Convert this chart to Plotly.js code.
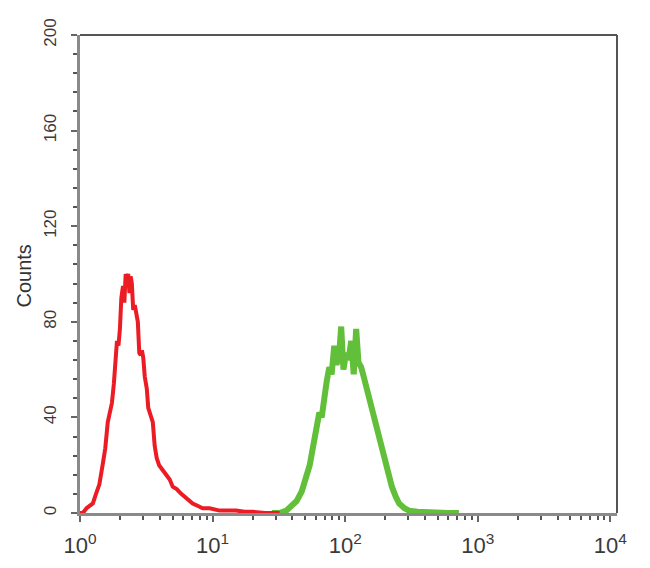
<!DOCTYPE html>
<html>
<head>
<meta charset="utf-8">
<script src="https://cdn.plot.ly/plotly-3.0.1.min.js"></script>
<style>html,body{margin:0;padding:0;background:#fff;}#chart{width:650px;height:568px;}</style>
</head>
<body>
<div id="chart"></div>
<script>
// Red (control) histogram
const redX = [1.0,1.05,1.12,1.2,1.25,1.32,1.4,1.49,1.55,1.62,
  1.68,1.74,1.8,1.86,1.9,1.95,2.0,2.05,2.11,2.16,
  2.21,2.26,2.31,2.36,2.41,2.46,2.52,2.59,2.66,2.73,
  2.8,2.87,2.93,3.0,3.08,3.19,3.27,3.36,3.45,3.54,
  3.66,3.79,3.95,4.21,4.45,4.75,5.0,5.36,5.8,6.38,
  6.7,7.08,7.7,8.41,9.5,11.3,13,15,17.5,20,
  25,32];
const redY = [0,0,2,3,4,8,12,21,27,38,
  42,46,54,66,72,70,77,90,95,88,
  100,98,100,92,99,96,85,87,82,80,
  67,66,68,65,57,52,44,42,40,38,
  28,23,20,18,16,14,11,10,8,6,
  5,4,3,2,2,1,1,1,0.5,0.5,
  0,0];
// Green (stained) histogram
const greenX = [28,32,36,40,43,47,51,54,56.5,60,
  63.8,66.5,69.5,72.5,75.9,79,82.7,86,90,93.3,
  97,101.8,106,111,116,121,126,132,138,144,
  152,160,170,180,191,203,214,225,240,255,
  280,303,350,451,600,720];
const greenY = [0,0,1,3,5,9,15,20,26,33,
  42,40,49,55,61,58,70,62,66,78,
  60,67,64,72,58,77,63,61,57,53,
  47,43,37,31,26,21,16,11,7,4,
  2,1,0.5,0,0,0];
// Axis ticks
const xMajorVals = [1,10,100,1000,10000];
const xMajorText = ['10<sup>0</sup>','10<sup>1</sup>','10<sup>2</sup>','10<sup>3</sup>','10<sup>4</sup>'];
const xMinorVals = [2,3,4,5,6,7,8,9,20,30,40,50,60,70,80,90,200,300,400,500,600,700,800,900,2000,3000,4000,5000,6000,7000,8000,9000];
const yTickVals = [0,40,80,120,160,200];
const yLabel = 'Counts';

const fontFam = '"Liberation Sans", Arial, sans-serif';

const traces = [
  {x: greenX, y: greenY, type: 'scatter', mode: 'lines', line: {color: '#62bf3a', width: 6}, hoverinfo: 'skip'},
  {x: redX, y: redY, type: 'scatter', mode: 'lines', line: {color: '#ec1c24', width: 4}, hoverinfo: 'skip'}
];

const layout = {
  width: 650, height: 568,
  margin: {l: 80, r: 33, t: 35, b: 55},
  paper_bgcolor: '#fff', plot_bgcolor: '#fff',
  showlegend: false,
  font: {family: fontFam, color: '#444'},
  xaxis: {
    type: 'log', range: [0, 4.05], showgrid: false, zeroline: false,
    showline: true, linecolor: '#8a8a8a', linewidth: 3,
    tickmode: 'array', tickvals: xMajorVals, ticktext: xMajorText,
    ticks: 'outside', ticklen: 6, tickwidth: 2, tickcolor: '#666',
    minor: {tickmode: 'array', tickvals: xMinorVals, ticks: 'outside', ticklen: 4, tickwidth: 2, tickcolor: '#555'},
    ticklabelstandoff: 5,
    tickfont: {size: 22, color: '#3a3a3a', family: fontFam}
  },
  yaxis: {
    range: [0, 200], showgrid: false, zeroline: false,
    showline: true, linecolor: '#8a8a8a', linewidth: 3,
    tickmode: 'array', tickvals: yTickVals,
    ticks: 'outside', ticklen: 6, tickwidth: 2, tickcolor: '#666',
    minor: {dtick: 8, ticks: 'outside', ticklen: 4, tickwidth: 2, tickcolor: '#555'},
    tickangle: -90, ticklabelstandoff: 8,
    tickfont: {size: 17, color: '#3a3a3a', family: fontFam}
  },
  shapes: [
    {type: 'line', xref: 'paper', yref: 'paper', x0: 0, x1: 1, y0: 1, y1: 1, line: {color: '#555', width: 2}},
    {type: 'line', xref: 'paper', yref: 'paper', x0: 1, x1: 1, y0: 0, y1: 1, line: {color: '#555', width: 2}}
  ],
  annotations: [
    {text: yLabel, xref: 'paper', yref: 'paper', x: -0.104, y: 0.495, textangle: -90, showarrow: false,
     xanchor: 'center', yanchor: 'middle', font: {size: 20, color: '#333', family: fontFam}}
  ]
};

Plotly.newPlot('chart', traces, layout, {displayModeBar: false, staticPlot: true});
</script>
</body>
</html>
